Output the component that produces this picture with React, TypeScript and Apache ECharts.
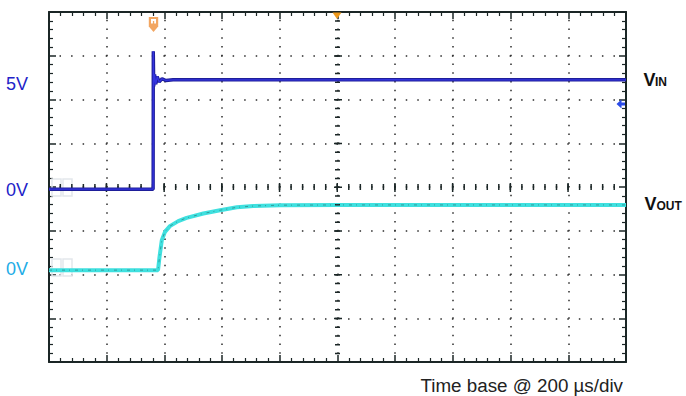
import React, { useEffect, useRef } from 'react';
import * as echarts from 'echarts';

// ---- data (time in µs, voltages in V) ----
const vinTime = [0, 120, 240, 361, 361.5, 363, 366, 370, 375, 382, 392, 405, 430, 600, 800, 1000, 1200, 1400, 1600, 1800, 2000];
const vinVolts = [0, 0, 0, 0, 6.3, 4.7, 5.25, 4.8, 5.15, 4.9, 5.05, 4.97, 5.0, 5.0, 5.0, 5.0, 5.01, 5.0, 5.0, 5.0, 5.0];
const voutTime = [0, 200, 378, 383, 391, 402, 419, 448, 477, 535, 593, 651, 708, 801, 1000, 1200, 1400, 1600, 1800, 2000];
const voutVolts = [0, 0, 0, 0.6, 1.37, 1.75, 2.01, 2.24, 2.39, 2.59, 2.74, 2.87, 2.93, 2.97, 2.98, 2.98, 2.98, 2.98, 2.98, 2.98];

const timeMin = 0;
const timeMax = 2000;
const timePerDiv = 200;
const divMin = -4;
const divMax = 4;
const vinRange = [-7.9, 8.1];
const voutRange = [-4.2, 11.8];

const levelLabels = ['5V', '0V', '0V'];
const channelNames = ['V', 'IN', 'V', 'OUT'];
const timeBaseText = 'Time base @ 200 \u00b5s/div';

// ---- layout / style ----
const gridLeft = 49;
const gridTop = 12;
const gridW = 577;
const gridH = 350;
const minorX = gridW / 50;
const minorY = gridH / 40;
const majorX = gridW / 10;
const majorY = gridH / 8;
const frame = '#1b2626';
const dotColor = '#2b2b2b';
const FONT = '"Liberation Sans", Arial, sans-serif';

const zip = (a: number[], b: number[]) => a.map((t, i) => [t, b[i]]);

function frameAxis(extra: any, min: number, max: number, interval: number) {
  return {
    type: 'value',
    min,
    max,
    interval,
    axisLine: { show: true, onZero: false, lineStyle: { color: frame, width: 2 } },
    axisTick: { show: true, inside: true, length: 7, lineStyle: { color: frame, width: 1.5 } },
    minorTick: { show: true, splitNumber: 5, length: 4, lineStyle: { color: frame, width: 1.2 } },
    axisLabel: { show: false },
    splitLine: { show: false },
    minorSplitLine: { show: false },
    ...extra,
  };
}

const option: any = {
  animation: false,
  backgroundColor: '#ffffff',
  grid: { left: gridLeft, top: gridTop, width: gridW, height: gridH, containLabel: false, outerBoundsMode: 'none' },
  xAxis: [
    frameAxis(
      {
        position: 'bottom',
        splitLine: {
          show: true,
          lineStyle: { color: dotColor, width: 1.5, type: [1.5, minorY - 1.5], dashOffset: 0.75 },
        },
      },
      timeMin,
      timeMax,
      timePerDiv
    ),
    frameAxis({ position: 'top' }, timeMin, timeMax, timePerDiv),
  ],
  yAxis: [
    frameAxis(
      {
        position: 'left',
        splitLine: {
          show: true,
          lineStyle: { color: dotColor, width: 1.5, type: [1.5, minorX - 1.5], dashOffset: 0.75 },
        },
      },
      divMin,
      divMax,
      1
    ),
    frameAxis({ position: 'right' }, divMin, divMax, 1),
    { type: 'value', show: false, min: vinRange[0], max: vinRange[1] },
    { type: 'value', show: false, min: voutRange[0], max: voutRange[1] },
  ],
  series: [
    {
      type: 'line',
      name: 'crosshair',
      xAxisIndex: 0,
      yAxisIndex: 0,
      data: [],
      silent: true,
      markLine: {
        silent: true,
        symbol: ['none', 'none'],
        label: { show: false },
        emphasis: { disabled: true },
        data: [
          { yAxis: 0, lineStyle: { color: frame, width: 6, type: [1.5, minorX - 1.5], dashOffset: 0.75 } },
          { yAxis: 0, lineStyle: { color: frame, width: 9, type: [1.5, majorX - 1.5], dashOffset: 0.75 } },
          { xAxis: (timeMin + timeMax) / 2, lineStyle: { color: frame, width: 5, type: [1.5, minorY - 1.5], dashOffset: 0.75 } },
          { xAxis: (timeMin + timeMax) / 2, lineStyle: { color: frame, width: 8, type: [1.5, majorY - 1.5], dashOffset: 0.75 } },
        ],
      },
    },
    {
      type: 'line',
      name: 'VOUT',
      xAxisIndex: 0,
      yAxisIndex: 3,
      data: zip(voutTime, voutVolts),
      showSymbol: false,
      smooth: false,
      lineStyle: { color: '#3fe0df', width: 4 },
      z: 4,
    },
    {
      type: 'line',
      name: 'VOUT noise',
      xAxisIndex: 0,
      yAxisIndex: 3,
      data: zip(voutTime, voutVolts),
      showSymbol: false,
      lineStyle: { color: '#2a6d6d', width: 1, type: [3, 4, 1, 5], opacity: 0.6 },
      z: 5,
    },
    {
      type: 'line',
      name: 'VIN',
      xAxisIndex: 0,
      yAxisIndex: 2,
      data: zip(vinTime, vinVolts),
      showSymbol: false,
      lineStyle: { color: '#1e1e9a', width: 3.4 },
      z: 6,
    },
    {
      type: 'line',
      name: 'VIN core',
      xAxisIndex: 0,
      yAxisIndex: 2,
      data: zip(vinTime, vinVolts),
      showSymbol: false,
      lineStyle: { color: '#3434e0', width: 1.3 },
      z: 7,
    },
  ],
  graphic: [
    // faint ghost ground markers
    { type: 'rect', z: 1, shape: { x: 52, y: 179, width: 9, height: 17 }, style: { fill: 'none', stroke: '#e3e7ec', lineWidth: 1.5 } },
    { type: 'rect', z: 1, shape: { x: 63, y: 179, width: 9, height: 17 }, style: { fill: 'none', stroke: '#e3e7ec', lineWidth: 1.5 } },
    { type: 'rect', z: 1, shape: { x: 52, y: 259, width: 9, height: 17 }, style: { fill: 'none', stroke: '#e3e7ec', lineWidth: 1.5 } },
    { type: 'rect', z: 1, shape: { x: 63, y: 259, width: 9, height: 17 }, style: { fill: 'none', stroke: '#e3e7ec', lineWidth: 1.5 } },
    // trigger "T" marker
    {
      type: 'polygon',
      z: 10,
      shape: { points: [[148.8, 17], [158.2, 17], [158.2, 26.5], [153.5, 32], [148.8, 26.5]] },
      style: { fill: '#f2a662' },
    },
    { type: 'rect', z: 11, shape: { x: 151, y: 19, width: 5, height: 4.5 }, style: { fill: '#ffffff' } },
    { type: 'rect', z: 12, shape: { x: 152.9, y: 21, width: 1.3, height: 3 }, style: { fill: '#f2a662' } },
    // trigger position triangle
    {
      type: 'polygon',
      z: 10,
      shape: { points: [[332.5, 12.5], [341.5, 12.5], [337, 19]] },
      style: { fill: '#f09a1c' },
    },
    // trigger level arrow
    {
      type: 'polygon',
      z: 10,
      shape: {
        points: [[616.5, 104], [621.5, 99.5], [621.5, 102.5], [625, 102.5], [625, 105.5], [621.5, 105.5], [621.5, 108.5]],
      },
      style: { fill: '#2b4be8' },
    },
    // level labels
    { type: 'text', x: 6, y: 84, style: { text: levelLabels[0], fill: '#2222c8', font: `18px ${FONT}`, textAlign: 'left', textVerticalAlign: 'middle' } },
    { type: 'text', x: 6, y: 190, style: { text: levelLabels[1], fill: '#2222c8', font: `18px ${FONT}`, textAlign: 'left', textVerticalAlign: 'middle' } },
    { type: 'text', x: 6, y: 269, style: { text: levelLabels[2], fill: '#22ace6', font: `18px ${FONT}`, textAlign: 'left', textVerticalAlign: 'middle' } },
    // channel names
    { type: 'text', x: 643.5, y: 79.6, style: { text: channelNames[0], fill: '#111111', font: `bold 18px ${FONT}`, textAlign: 'left', textVerticalAlign: 'middle' } },
    { type: 'text', x: 655, y: 81.7, style: { text: channelNames[1], fill: '#111111', font: `bold 12px ${FONT}`, textAlign: 'left', textVerticalAlign: 'middle' } },
    { type: 'text', x: 644.5, y: 204, style: { text: channelNames[2], fill: '#111111', font: `bold 18px ${FONT}`, textAlign: 'left', textVerticalAlign: 'middle' } },
    { type: 'text', x: 656.5, y: 206.2, style: { text: channelNames[3], fill: '#111111', font: `bold 12px ${FONT}`, textAlign: 'left', textVerticalAlign: 'middle' } },
    // time base
    { type: 'text', x: 623, y: 385, style: { text: timeBaseText, fill: '#222222', font: `18.8px ${FONT}`, textAlign: 'right', textVerticalAlign: 'middle' } },
  ],
};

export default function App() {
  const ref = useRef<HTMLDivElement>(null);
  useEffect(() => {
    document.body.style.margin = '0';
    const chart = echarts.init(ref.current as HTMLDivElement, null, { renderer: 'svg' });
    chart.setOption(option);
    return () => chart.dispose();
  }, []);
  return <div ref={ref} style={{ width: 686, height: 396 }} />;
}
